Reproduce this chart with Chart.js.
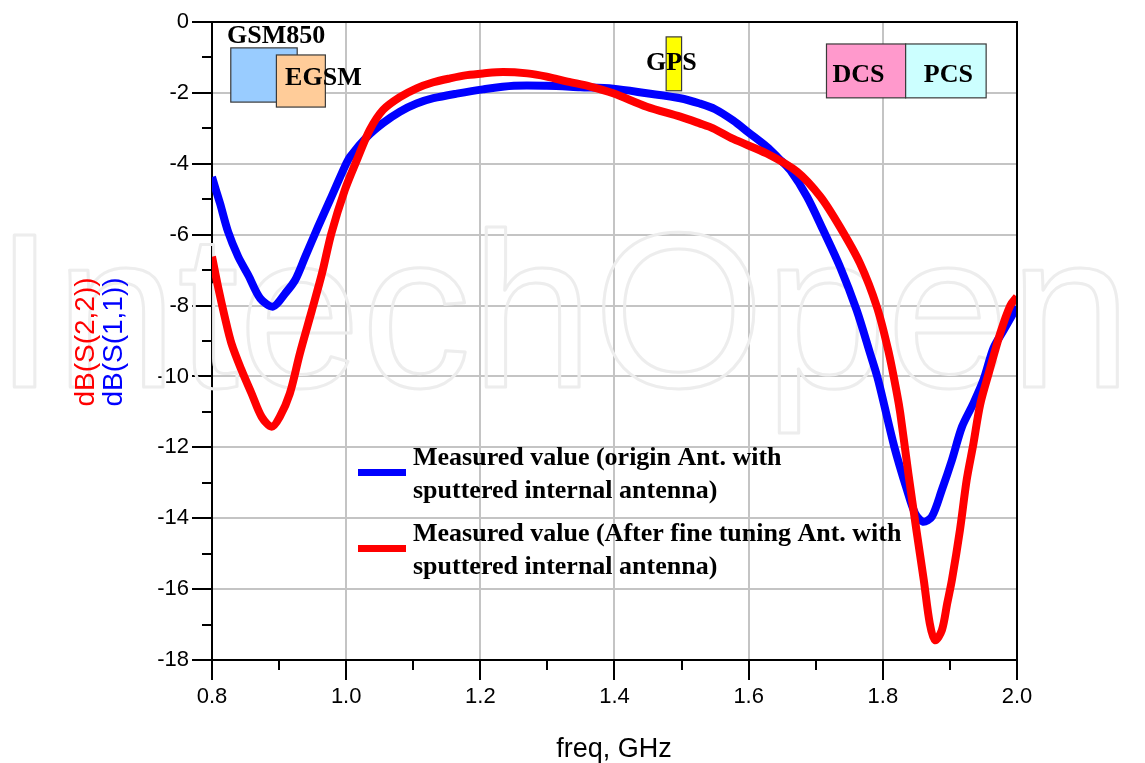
<!DOCTYPE html>
<html>
<head>
<meta charset="utf-8">
<script src="https://cdn.jsdelivr.net/npm/chart.js@4"></script>
<style>
  html, body { margin: 0; padding: 0; background: #fff; }
  #wrap { width: 1145px; height: 763px; }
</style>
</head>
<body>
<div id="wrap"><canvas id="c" width="1145" height="763"></canvas></div>
<script>
// ---- data ----
const freqS11 = [0.800,0.806,0.812,0.824,0.839,0.854,0.872,0.891,0.909,0.924,0.939,0.958,0.976,0.998,1.006,1.031,1.055,1.080,1.105,1.130,1.165,1.204,1.250,1.299,1.349,1.398,1.448,1.498,1.527,1.550,1.577,1.600,1.627,1.645,1.662,1.687,1.711,1.736,1.761,1.781,1.793,1.817,1.836,1.848,1.860,1.873,1.888,1.903,1.918,1.935,1.950,1.965,1.980,2.000];
const s11 = [-4.37,-4.75,-5.12,-5.92,-6.62,-7.14,-7.80,-8.03,-7.66,-7.28,-6.62,-5.78,-5.02,-4.08,-3.80,-3.24,-2.85,-2.53,-2.30,-2.15,-2.02,-1.90,-1.80,-1.80,-1.84,-1.88,-2.01,-2.15,-2.30,-2.46,-2.78,-3.12,-3.52,-3.85,-4.18,-4.93,-5.87,-6.90,-8.13,-9.35,-10.10,-11.98,-13.20,-13.86,-14.10,-13.96,-13.20,-12.36,-11.42,-10.76,-10.10,-9.20,-8.70,-8.03];

const freqS22 = [0.800,0.809,0.819,0.829,0.844,0.859,0.874,0.889,0.901,0.916,0.931,0.949,0.964,0.978,0.998,1.016,1.035,1.055,1.080,1.105,1.130,1.155,1.180,1.204,1.234,1.270,1.299,1.330,1.364,1.398,1.448,1.498,1.527,1.547,1.577,1.627,1.672,1.707,1.736,1.766,1.791,1.808,1.821,1.826,1.838,1.850,1.861,1.870,1.878,1.888,1.896,1.903,1.915,1.925,1.935,1.945,1.958,1.975,1.990,2.000];
const s22 = [-6.62,-7.47,-8.32,-9.07,-9.82,-10.48,-11.14,-11.42,-11.14,-10.48,-9.35,-8.13,-7.09,-5.96,-4.74,-3.89,-3.05,-2.48,-2.12,-1.87,-1.70,-1.59,-1.50,-1.45,-1.41,-1.45,-1.54,-1.68,-1.82,-2.01,-2.39,-2.67,-2.86,-3.00,-3.30,-3.71,-4.22,-4.93,-5.78,-6.81,-8.03,-9.26,-10.48,-11.04,-12.73,-14.33,-15.74,-16.97,-17.44,-17.16,-16.40,-15.74,-14.33,-12.92,-11.90,-10.80,-9.90,-8.78,-8.00,-7.75];

const xTickValues = [0.8,1.0,1.2,1.4,1.6,1.8,2.0];
const xTickLabels = ['0.8','1.0','1.2','1.4','1.6','1.8','2.0'];
const xMinorValues = [0.9,1.1,1.3,1.5,1.7,1.9];
const yTickValues = [0,-2,-4,-6,-8,-10,-12,-14,-16,-18];
const yTickLabels = ['0','-2','-4','-6','-8','-10','-12','-14','-16','-18'];
const yMinorValues = [-1,-3,-5,-7,-9,-11,-13,-15,-17];

const seriesNames = ['dB(S(1,1))','dB(S(2,2))'];
const legendLabels = [
  ['Measured value (origin Ant. with','sputtered internal antenna)'],
  ['Measured value (After fine tuning Ant. with','sputtered internal antenna)']
];

// frequency bands (GHz, dB extents)
const bandNames = ['GSM850','EGSM','GPS','DCS','PCS'];
const bandStart = [0.828,0.896,1.477,1.716,1.834];
const bandEnd   = [0.927,0.969,1.500,1.834,1.954];
const bandTop   = [-0.73,-0.93,-0.42,-0.62,-0.62];
const bandBottom= [-2.26,-2.40,-1.94,-2.14,-2.14];
const bandLabelX = [0.8225,0.909,1.447,1.725,1.861];
const bandLabelY = [-0.59,-1.78,-1.35,-1.68,-1.68];
const bandColors = ['#99ccff','#ffcc99','#ffff00','#ff99cc','#ccffff'];

const BLUE = '#0000ff', RED = '#ff0000';

const pts = (xs, ys) => xs.map((x, i) => ({x: x, y: ys[i]}));

const decor = {
  id: 'decor',
  beforeDatasetsDraw(chart) {
    const ctx = chart.ctx;
    // faint watermark
    ctx.save();
    ctx.font = '220px "Liberation Sans"';
    ctx.strokeStyle = '#ededed';
    ctx.lineWidth = 3;
    ctx.lineJoin = 'round';
    ctx.textBaseline = 'alphabetic';
    ctx.strokeText('IntechOpen', -6, 387);
    ctx.restore();
  },
  afterDatasetsDraw(chart) {
    const ctx = chart.ctx, xs = chart.scales.x, ys = chart.scales.y;
    const a = chart.chartArea;
    ctx.save();
    // frame top/right
    ctx.strokeStyle = '#000'; ctx.lineWidth = 2;
    ctx.beginPath();
    ctx.moveTo(a.left, a.top); ctx.lineTo(a.right, a.top); ctx.lineTo(a.right, a.bottom);
    ctx.stroke();
    // minor ticks
    ctx.lineWidth = 2;
    ctx.beginPath();
    yMinorValues.forEach(v => { const py = Math.round(ys.getPixelForValue(v)); ctx.moveTo(a.left - 10, py); ctx.lineTo(a.left, py); });
    xMinorValues.forEach(v => { const px = Math.round(xs.getPixelForValue(v)); ctx.moveTo(px, a.bottom); ctx.lineTo(px, a.bottom + 10); });
    ctx.stroke();
    // bands
    for (let i = 0; i < bandNames.length; i++) {
      const x0 = xs.getPixelForValue(bandStart[i]), x1 = xs.getPixelForValue(bandEnd[i]);
      const y0 = ys.getPixelForValue(bandTop[i]), y1 = ys.getPixelForValue(bandBottom[i]);
      ctx.fillStyle = bandColors[i];
      ctx.fillRect(x0, y0, x1 - x0, y1 - y0);
      ctx.strokeStyle = '#3a3a3a'; ctx.lineWidth = 1.2;
      ctx.strokeRect(x0, y0, x1 - x0, y1 - y0);
    }
    ctx.fillStyle = '#000';
    ctx.font = 'bold 26px "Liberation Serif"';
    ctx.textBaseline = 'alphabetic'; ctx.textAlign = 'left';
    for (let i = 0; i < bandNames.length; i++) {
      ctx.fillText(bandNames[i], xs.getPixelForValue(bandLabelX[i]), ys.getPixelForValue(bandLabelY[i]));
    }
    // legend
    const colors = [BLUE, RED];
    const legTop = [458, 534];
    ctx.font = 'bold 26px "Liberation Serif"';
    ctx.textBaseline = 'middle';
    for (let i = 0; i < 2; i++) {
      ctx.strokeStyle = colors[i]; ctx.lineWidth = 7;
      ctx.beginPath();
      ctx.moveTo(358, legTop[i] + 14.5); ctx.lineTo(406, legTop[i] + 14.5);
      ctx.stroke();
      legendLabels[i].forEach((t, k) => ctx.fillText(t, 413, legTop[i] + k * 33.5));
    }
    // y title (two coloured lines)
    ctx.font = '28px "Liberation Sans"';
    ctx.textAlign = 'center'; ctx.textBaseline = 'middle';
    [[RED, seriesNames[1], 86], [BLUE, seriesNames[0], 114]].forEach(([c, t, x]) => {
      ctx.save();
      ctx.translate(x, 342);
      ctx.rotate(-Math.PI / 2);
      ctx.fillStyle = c;
      ctx.fillText(t, 0, 0);
      ctx.restore();
    });
    // x title
    ctx.fillStyle = '#000';
    ctx.font = '27px "Liberation Sans"';
    ctx.fillText('freq, GHz', 614, 750);
    ctx.restore();
  }
};

new Chart(document.getElementById('c'), {
  type: 'scatter',
  data: {
    datasets: [
      { label: seriesNames[0], data: pts(freqS11, s11), showLine: true, borderColor: BLUE, backgroundColor: BLUE,
        borderWidth: 8, pointRadius: 0, tension: 0.3, order: 1 },
      { label: seriesNames[1], data: pts(freqS22, s22), showLine: true, borderColor: RED, backgroundColor: RED,
        borderWidth: 8, pointRadius: 0, tension: 0.3, order: 0 }
    ]
  },
  options: {
    responsive: false,
    animation: false,
    devicePixelRatio: 1,
    layout: { padding: { left: 0, top: 22, right: 128, bottom: 0 } },
    plugins: { legend: { display: false }, tooltip: { enabled: false } },
    scales: {
      x: {
        type: 'linear', min: 0.8, max: 2.0,
        afterBuildTicks: s => { s.ticks = xTickValues.map(v => ({ value: v })); },
        afterFit: s => { s.height = 103; },
        ticks: { callback: (v, i) => xTickLabels[i], color: '#000', font: { family: 'Liberation Sans', size: 22 }, padding: 4, maxRotation: 0 },
        grid: { color: '#c4c4c4', lineWidth: 2, tickLength: 20, tickColor: '#000', tickWidth: 2 },
        border: { color: '#000', width: 2 }
      },
      y: {
        type: 'linear', min: -18, max: 0,
        afterBuildTicks: s => { s.ticks = yTickValues.map(v => ({ value: v })); },
        afterFit: s => { s.width = 212; },
        ticks: { callback: (v, i) => yTickLabels[i], color: '#000', font: { family: 'Liberation Sans', size: 22 }, padding: 3 },
        grid: { color: '#c4c4c4', lineWidth: 2, tickLength: 20, tickColor: '#000', tickWidth: 2 },
        border: { color: '#000', width: 2 }
      }
    }
  },
  plugins: [decor]
});
</script>
</body>
</html>
